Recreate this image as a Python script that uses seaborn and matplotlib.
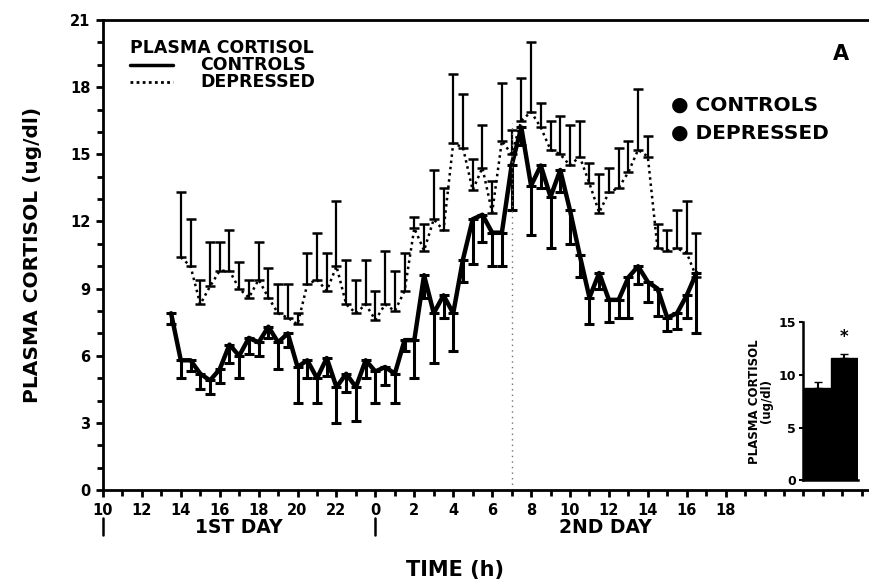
import numpy as np
import seaborn as sns
import matplotlib.pyplot as plt
from matplotlib.ticker import MultipleLocator

# clock time in hours from 10:00 on day 1 (24 = midnight)
hours = np.arange(13.5, 41.0, 0.5)

controls = [7.9, 5.8, 5.8, 5.2, 4.9, 5.4, 6.5, 6.0, 6.8, 6.6,
            7.3, 6.6, 7.0, 5.5, 5.8, 5.0, 5.9, 4.6, 5.2, 4.6,
            5.8, 5.3, 5.5, 5.2, 6.7, 6.7, 9.6, 7.9, 8.7, 7.9,
            10.3, 12.1, 12.3, 11.5, 11.5, 14.5, 16.2, 13.6, 14.5, 13.1,
            14.3, 12.5, 10.5, 8.6, 9.7, 8.5, 8.5, 9.5, 10.0, 9.3,
            9.0, 7.7, 7.9, 8.7, 9.7]
controls_sem = [0.5, 0.8, 0.5, 0.7, 0.6, 0.6, 0.8, 1.0, 0.7, 0.6,
                0.5, 1.2, 0.6, 1.6, 0.8, 1.1, 0.8, 1.6, 0.8, 1.5,
                0.8, 1.4, 0.8, 1.3, 0.5, 1.7, 1.0, 2.2, 1.0, 1.7,
                1.0, 2.0, 1.2, 1.5, 1.5, 2.0, 0.8, 2.2, 1.0, 2.3,
                1.0, 1.5, 1.0, 1.2, 0.7, 1.0, 0.8, 1.8, 0.8, 0.9,
                1.2, 0.6, 0.7, 1.0, 2.7]

depressed = [np.nan, 10.4, 10.0, 8.3, 9.1, 9.8, 9.8, 9.0, 8.6, 9.4,
             8.6, 7.9, 7.7, 7.4, 9.2, 9.4, 8.9, 10.0, 8.3, 7.9,
             8.3, 7.6, 8.3, 8.0, 8.9, 11.7, 10.7, 12.1, 11.6, 15.5,
             15.3, 13.4, 14.4, 12.4, 15.6, 15.0, 16.5, 16.9, 16.2, 15.2,
             15.0, 14.5, 14.9, 13.7, 12.4, 13.3, 13.5, 14.2, 15.2, 14.9,
             10.8, 10.7, 10.8, 10.6, 9.5]
depressed_sem = [0.0, 2.9, 2.1, 1.1, 2.0, 1.3, 1.8, 1.2, 0.8, 1.7,
                 1.3, 1.3, 1.5, 0.5, 1.4, 2.1, 1.7, 2.9, 2.0, 1.5,
                 2.0, 1.3, 2.4, 1.8, 1.7, 0.5, 1.2, 2.2, 1.9, 3.1,
                 2.4, 1.4, 1.9, 1.4, 2.6, 1.1, 1.9, 3.1, 1.1, 1.3,
                 1.7, 1.8, 1.6, 0.9, 1.7, 1.1, 1.8, 1.4, 2.7, 0.9,
                 1.1, 0.9, 1.7, 2.3, 2.0]

tick_hours = list(range(10, 43, 2))
tick_labels = [str(h % 24) for h in tick_hours]

inset_groups = ["CONTROLS", "DEPRESSED"]
inset_means = [8.8, 11.6]
inset_sem = [0.5, 0.4]

sns.set_style("ticks")
plt.rcParams["font.family"] = ["DejaVu Sans"]
plt.rcParams["font.weight"] = "bold"
for key in ["text.color", "axes.labelcolor", "xtick.color", "ytick.color", "axes.edgecolor"]:
    plt.rcParams[key] = "black"

fig = plt.figure(figsize=(8.69, 5.87), dpi=100)
ax = fig.add_axes([0.1185, 0.165, 0.88, 0.801])

zeros = np.zeros(len(hours))
ax.errorbar(hours, controls, yerr=[controls_sem, zeros], fmt="none",
            ecolor="black", elinewidth=2.2, capsize=3.5, capthick=2.2)
ax.errorbar(hours, depressed, yerr=[zeros, depressed_sem], fmt="none",
            ecolor="black", elinewidth=1.6, capsize=3.5, capthick=1.8)
sns.lineplot(x=hours, y=controls, ax=ax, color="black", linewidth=3.2)
sns.lineplot(x=hours, y=depressed, ax=ax, color="black", linewidth=1.8,
             linestyle=(0, (1, 1.5)))

ax.axvline(31, color="0.45", linestyle=(0, (1, 3)), linewidth=1.0, ymax=0.78)

ax.set_xlim(10, 49.3)
ax.set_ylim(0, 21)
ax.set_xticks(tick_hours)
ax.set_xticklabels(tick_labels)
ax.xaxis.set_minor_locator(MultipleLocator(1))
ax.set_yticks(range(0, 22, 3))
ax.yaxis.set_minor_locator(MultipleLocator(1))
ax.tick_params(axis="both", which="major", labelsize=10.5, length=5, width=2,
               direction="out", pad=4, colors="black")
ax.tick_params(axis="both", which="minor", length=4, width=2, direction="out",
               colors="black")
for lab in ax.get_xticklabels() + ax.get_yticklabels():
    lab.set_fontweight("bold")
for s in ["left", "bottom", "top"]:
    ax.spines[s].set_linewidth(2)
    ax.spines[s].set_color("black")
    ax.spines[s].set_visible(True)
ax.spines["right"].set_visible(False)

ax.set_ylabel("PLASMA CORTISOL (ug/dl)", fontsize=14.5, fontweight="bold", labelpad=20)
ax.set_xlabel("")

# day annotations under the axis
for h in [10, 24]:
    ax.plot([h, h], [-1.25, -2.0], color="black", linewidth=1.8, clip_on=False)
ax.text(17.0, -1.65, "1ST DAY", ha="center", va="center", fontsize=13.5, fontweight="bold")
ax.text(35.8, -1.65, "2ND DAY", ha="center", va="center", fontsize=13.5, fontweight="bold")
ax.text(28.1, -3.55, "TIME (h)", ha="center", va="center", fontsize=15, fontweight="bold")

# key in top-left
ax.text(11.4, 19.75, "PLASMA CORTISOL", fontsize=12.5, fontweight="bold", va="center")
ax.plot([11.4, 13.6], [19.0, 19.0], color="black", linewidth=2.5)
ax.plot([11.4, 13.6], [18.25, 18.25], color="black", linewidth=2.0, linestyle=(0, (1, 1.2)))
ax.text(15.0, 19.0, "CONTROLS", fontsize=12.5, fontweight="bold", va="center")
ax.text(15.0, 18.25, "DEPRESSED", fontsize=12.5, fontweight="bold", va="center")

ax.text(47.9, 19.5, "A", fontsize=15, fontweight="bold", ha="center", va="center")
ax.text(39.2, 17.2, "\u25CF CONTROLS", fontsize=14.5, fontweight="bold", va="center")
ax.text(39.2, 15.95, "\u25CF DEPRESSED", fontsize=14.5, fontweight="bold", va="center")

# inset bar chart
ins = fig.add_axes([0.924, 0.182, 0.063, 0.269])
sns.barplot(x=inset_groups, y=inset_means, ax=ins, color="black", width=1.0,
            edgecolor="black")
ins.errorbar([0, 1], inset_means, yerr=[[0, 0], inset_sem], fmt="none",
             ecolor="black", elinewidth=1.5, capsize=3)
ins.text(1, 13.6, "*", ha="center", va="center", fontsize=12, fontweight="bold")
ins.set_ylim(0, 15)
ins.set_xlim(-0.55, 1.5)
ins.set_yticks([0, 5, 10, 15])
ins.set_xticks([])
ins.set_xlabel("")
ins.tick_params(axis="y", labelsize=9, length=3, width=1.5, pad=2, colors="black")
for lab in ins.get_yticklabels():
    lab.set_fontweight("bold")
ins.spines["right"].set_visible(False)
ins.spines["top"].set_visible(False)
ins.spines["left"].set_linewidth(1.8)
ins.spines["bottom"].set_linewidth(1.8)
ins.set_ylabel("PLASMA CORTISOL\n(ug/dl)", fontsize=8.5, fontweight="bold",
               linespacing=0.9, labelpad=4)

fig.savefig("out.png", dpi=100)
